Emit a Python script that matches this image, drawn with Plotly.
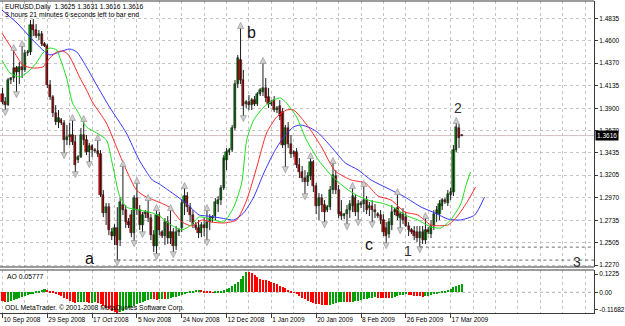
import plotly.graph_objects as go

# ---------------- data ----------------
TICK_BARS = [0, 16, 32, 48, 64, 80, 96, 112, 128, 144, 160]
TICK_LABELS = ["10 Sep 2008", "29 Sep 2008", "17 Oct 2008", "5 Nov 2008", "24 Nov 2008",
               "12 Dec 2008", "1 Jan 2009", "20 Jan 2009", "8 Feb 2009", "26 Feb 2009", "17 Mar 2009"]

OPEN = [
    1.4047, 1.3964, 1.3933, 1.4193, 1.4214, 1.4318, 1.4276, 1.4328, 1.4297, 1.4474,
    1.4484, 1.4765, 1.4713, 1.4651, 1.4671, 1.4567, 1.4547, 1.4141, 1.4016, 1.3850,
    1.3756, 1.3777, 1.3746, 1.3569, 1.3600, 1.3621, 1.3548, 1.3361, 1.3392, 1.3621,
    1.3569, 1.3444, 1.3506, 1.3465, 1.3455, 1.3423, 1.2997, 1.2810, 1.2872, 1.2612,
    1.2571, 1.2654, 1.2529, 1.2893, 1.2841, 1.2716, 1.2789, 1.2602, 1.2966, 1.2841,
    1.2685, 1.2799, 1.2820, 1.2758, 1.2581, 1.2467, 1.2789, 1.2612, 1.2571, 1.2716,
    1.2550, 1.2612, 1.2467, 1.2612, 1.2654, 1.2914, 1.2987, 1.2872, 1.2789, 1.2685,
    1.2654, 1.2602, 1.2685, 1.2654, 1.2716, 1.2758, 1.2779, 1.2904, 1.2945, 1.3070,
    1.3361, 1.3444, 1.3465, 1.3694, 1.4151, 1.4401, 1.4193, 1.3943, 1.3964, 1.3933,
    1.3985, 1.3943, 1.4047, 1.4068, 1.4110, 1.4016, 1.3943, 1.3985, 1.3881, 1.3923,
    1.3860, 1.3517, 1.3694, 1.3527, 1.3423, 1.3444, 1.3309, 1.3236, 1.3174, 1.3132,
    1.3195, 1.3340, 1.3091, 1.2883, 1.2966, 1.2893, 1.2841, 1.2872, 1.3049, 1.3195,
    1.3049, 1.2820, 1.2779, 1.2799, 1.2841, 1.2883, 1.2966, 1.2820, 1.2893, 1.2904,
    1.2945, 1.2862, 1.2883, 1.2841, 1.2799, 1.2789, 1.2737, 1.2654, 1.2591, 1.2685,
    1.2820, 1.2862, 1.2758, 1.2799, 1.2768, 1.2675, 1.2633, 1.2623, 1.2612, 1.2550,
    1.2612, 1.2529, 1.2633, 1.2591, 1.2675, 1.2799, 1.2799, 1.2883, 1.2945, 1.2914,
    1.2997, 1.3028, 1.3465, 1.3694, 1.3625]

HIGH = [
    1.4110, 1.4016, 1.4214, 1.4224, 1.4505, 1.4339, 1.4380, 1.4547, 1.4505, 1.4505,
    1.4817, 1.4827, 1.4775, 1.4713, 1.4703, 1.4588, 1.4567, 1.4193, 1.4037, 1.3933,
    1.3881, 1.3798, 1.3777, 1.3725, 1.3746, 1.3777, 1.3621, 1.3413, 1.3694, 1.3767,
    1.3621, 1.3538, 1.3527, 1.3486, 1.3569, 1.3465, 1.3049, 1.2914, 1.2914, 1.2654,
    1.2695, 1.2872, 1.2976, 1.3299, 1.2893, 1.2758, 1.2841, 1.2997, 1.3122, 1.2893,
    1.2820, 1.2841, 1.2945, 1.2799, 1.2633, 1.2841, 1.2820, 1.2633, 1.2758, 1.2779,
    1.2841, 1.2654, 1.2675, 1.2654, 1.2945, 1.3070, 1.3028, 1.2914, 1.2841, 1.2716,
    1.2737, 1.2716, 1.2758, 1.2841, 1.2799, 1.2789, 1.2966, 1.2987, 1.3101, 1.3413,
    1.3486, 1.3486, 1.3725, 1.4193, 1.4453, 1.4734, 1.4297, 1.3985, 1.4037, 1.4006,
    1.4027, 1.4068, 1.4110, 1.4370, 1.4214, 1.4110, 1.3985, 1.4027, 1.3923, 1.3985,
    1.3902, 1.3725, 1.3756, 1.3621, 1.3465, 1.3486, 1.3382, 1.3299, 1.3257, 1.3236,
    1.3382, 1.3361, 1.3122, 1.3018, 1.3007, 1.2945, 1.2893, 1.3091, 1.3330, 1.3257,
    1.3101, 1.2945, 1.2810, 1.2893, 1.2945, 1.3070, 1.3007, 1.2945, 1.2935, 1.3091,
    1.2987, 1.2924, 1.2945, 1.2904, 1.2820, 1.2841, 1.2799, 1.2716, 1.2758, 1.2893,
    1.2862, 1.3007, 1.2820, 1.2862, 1.2820, 1.2716, 1.2654, 1.2675, 1.2675, 1.2675,
    1.2675, 1.2758, 1.2665, 1.2737, 1.2841, 1.2883, 1.2945, 1.2966, 1.2966, 1.3049,
    1.3070, 1.3517, 1.3746, 1.3735, 1.3631]

LOW = [
    1.3943, 1.3881, 1.3923, 1.4151, 1.4172, 1.4068, 1.4151, 1.4214, 1.4276, 1.4443,
    1.4453, 1.4651, 1.4630, 1.4609, 1.4547, 1.4536, 1.4110, 1.3985, 1.3808, 1.3725,
    1.3694, 1.3725, 1.3434, 1.3517, 1.3517, 1.3517, 1.3236, 1.3330, 1.3382, 1.3517,
    1.3413, 1.3340, 1.3392, 1.3434, 1.3392, 1.2976, 1.2768, 1.2685, 1.2581, 1.2529,
    1.2477, 1.2321, 1.2467, 1.2789, 1.2654, 1.2654, 1.2560, 1.2519, 1.2789, 1.2633,
    1.2612, 1.2758, 1.2716, 1.2529, 1.2404, 1.2384, 1.2581, 1.2550, 1.2477, 1.2488,
    1.2488, 1.2404, 1.2425, 1.2571, 1.2612, 1.2789, 1.2820, 1.2716, 1.2654, 1.2633,
    1.2550, 1.2560, 1.2571, 1.2529, 1.2633, 1.2716, 1.2737, 1.2820, 1.2893, 1.3049,
    1.3257, 1.3413, 1.3444, 1.3673, 1.4110, 1.4151, 1.3819, 1.3902, 1.3881, 1.3881,
    1.3923, 1.3923, 1.4027, 1.4027, 1.3964, 1.3902, 1.3923, 1.3860, 1.3850, 1.3777,
    1.3486, 1.3288, 1.3486, 1.3382, 1.3392, 1.3278, 1.3174, 1.3132, 1.3007, 1.3091,
    1.3153, 1.3028, 1.2799, 1.2737, 1.2820, 1.2716, 1.2820, 1.2841, 1.3007, 1.3007,
    1.2758, 1.2737, 1.2747, 1.2695, 1.2758, 1.2820, 1.2779, 1.2737, 1.2862, 1.2820,
    1.2799, 1.2779, 1.2716, 1.2758, 1.2758, 1.2695, 1.2571, 1.2498, 1.2550, 1.2633,
    1.2789, 1.2737, 1.2654, 1.2695, 1.2665, 1.2571, 1.2591, 1.2529, 1.2508, 1.2456,
    1.2488, 1.2488, 1.2591, 1.2550, 1.2633, 1.2716, 1.2737, 1.2841, 1.2904, 1.2883,
    1.2945, 1.2987, 1.3444, 1.3486, 1.3616]

CLOSE = [
    1.3964, 1.3933, 1.4193, 1.4214, 1.4318, 1.4276, 1.4328, 1.4297, 1.4474, 1.4484,
    1.4765, 1.4713, 1.4651, 1.4671, 1.4567, 1.4547, 1.4141, 1.4016, 1.3850, 1.3756,
    1.3798, 1.3746, 1.3569, 1.3600, 1.3621, 1.3548, 1.3309, 1.3392, 1.3621, 1.3569,
    1.3444, 1.3506, 1.3465, 1.3455, 1.3423, 1.2997, 1.2810, 1.2872, 1.2633, 1.2571,
    1.2654, 1.2477, 1.2924, 1.2841, 1.2716, 1.2685, 1.2602, 1.2966, 1.2841, 1.2685,
    1.2789, 1.2820, 1.2758, 1.2581, 1.2467, 1.2789, 1.2633, 1.2571, 1.2716, 1.2550,
    1.2612, 1.2467, 1.2612, 1.2633, 1.2914, 1.2987, 1.2872, 1.2789, 1.2695, 1.2654,
    1.2602, 1.2685, 1.2654, 1.2716, 1.2758, 1.2768, 1.2924, 1.2945, 1.3070, 1.3382,
    1.3444, 1.3465, 1.3694, 1.4151, 1.4422, 1.4193, 1.3923, 1.3964, 1.3933, 1.3985,
    1.3943, 1.4047, 1.4089, 1.4110, 1.4006, 1.3943, 1.3954, 1.3881, 1.3902, 1.3819,
    1.3517, 1.3694, 1.3527, 1.3423, 1.3444, 1.3309, 1.3236, 1.3174, 1.3132, 1.3195,
    1.3340, 1.3091, 1.2883, 1.2966, 1.2893, 1.2820, 1.2872, 1.3049, 1.3205, 1.3049,
    1.2799, 1.2779, 1.2799, 1.2841, 1.2904, 1.2987, 1.2820, 1.2904, 1.2914, 1.2945,
    1.2841, 1.2883, 1.2841, 1.2820, 1.2779, 1.2737, 1.2612, 1.2571, 1.2716, 1.2820,
    1.2841, 1.2779, 1.2799, 1.2737, 1.2675, 1.2633, 1.2612, 1.2571, 1.2550, 1.2612,
    1.2529, 1.2633, 1.2612, 1.2675, 1.2799, 1.2841, 1.2904, 1.2945, 1.2924, 1.3007,
    1.3028, 1.3465, 1.3704, 1.3590, 1.3616]

AO = [
    -0.060, -0.068, -0.064, -0.058, -0.052, -0.046, -0.040, -0.034, -0.027, -0.020,
    -0.013, -0.006, 0.003, 0.010, 0.016, 0.019, 0.017, 0.011, 0.003, -0.006,
    -0.016, -0.026, -0.036, -0.046, -0.055, -0.063, -0.070, -0.068, -0.065, -0.063,
    -0.067, -0.071, -0.069, -0.067, -0.072, -0.080, -0.092, -0.103, -0.115, -0.124,
    -0.131, -0.137, -0.133, -0.124, -0.115, -0.107, -0.098, -0.090, -0.081, -0.073,
    -0.065, -0.058, -0.050, -0.044, -0.047, -0.051, -0.048, -0.044, -0.046, -0.042,
    -0.038, -0.034, -0.029, -0.024, -0.018, -0.011, -0.004, 0.003, 0.009, 0.014,
    0.016, 0.014, 0.011, 0.007, 0.004, 0.002, 0.003, 0.005, 0.008, 0.013,
    0.020, 0.030, 0.042, 0.056, 0.072, 0.090, 0.110, 0.136, 0.134, 0.126,
    0.117, 0.104, 0.090, 0.085, 0.080, 0.075, 0.069, 0.062, 0.054, 0.045,
    0.035, 0.026, 0.016, 0.007, -0.003, -0.013, -0.024, -0.035, -0.046, -0.055,
    -0.063, -0.070, -0.077, -0.081, -0.084, -0.086, -0.088, -0.084, -0.078, -0.072,
    -0.067, -0.063, -0.062, -0.064, -0.066, -0.063, -0.059, -0.055, -0.051, -0.047,
    -0.043, -0.040, -0.037, -0.034, -0.035, -0.036, -0.038, -0.039, -0.040, -0.036,
    -0.031, -0.026, -0.021, -0.017, -0.013, -0.015, -0.018, -0.022, -0.025, -0.028,
    -0.029, -0.026, -0.022, -0.017, -0.012, -0.007, -0.001, 0.005, 0.011, 0.018,
    0.025, 0.033, 0.042, 0.050, 0.05777]

UP_FRACTALS = [4, 7, 25, 29, 34, 43, 48, 52, 55, 60, 65, 73, 85, 93, 110, 118, 125, 129, 141, 151, 162]
DOWN_FRACTALS = [1, 5, 22, 26, 31, 41, 47, 50, 55, 61, 73, 86, 101, 108, 115, 123, 127, 132, 137, 142, 149]

# Alligator lines (bar position, price)
JAW_X = [-0.2, 5.2, 9.8, 14.4, 16.9, 20.4, 24.0, 26.5, 30.0, 33.6, 38.2, 44.2, 48.8, 53.5, 56.0,
         60.6, 65.5, 70.2, 73.0, 78.0, 82.6, 86.1, 89.7, 93.3, 96.8, 100.4, 103.9, 106.4, 110.0,
         112.8, 117.4, 122.4, 127.0, 131.6, 138.7, 143.7, 149.4, 154.4, 159.0, 163.6, 168.6, 172.1]
JAW_Y = [1.4921, 1.4786, 1.4641, 1.4505, 1.4454, 1.4485, 1.4516, 1.4485, 1.4329, 1.4142, 1.3913,
         1.3643, 1.3362, 1.3154, 1.3112, 1.3019, 1.2915, 1.2790, 1.2780, 1.2759, 1.2738, 1.2811,
         1.2977, 1.3226, 1.3435, 1.3601, 1.3705, 1.3726, 1.3694, 1.3643, 1.3497, 1.3331, 1.3258,
         1.3154, 1.3050, 1.2977, 1.2873, 1.2811, 1.2748, 1.2738, 1.2790, 1.2977]
TEETH_X = [-0.2, 3.7, 7.3, 10.8, 14.4, 16.9, 19.4, 21.5, 23.3, 25.0, 27.5, 30.0, 32.1, 37.1, 40.7,
           44.2, 47.8, 51.3, 54.9, 59.5, 64.1, 67.7, 71.2, 74.4, 79.0, 83.6, 87.2, 90.8, 94.3, 97.9,
           101.4, 103.9, 106.4, 110.0, 113.9, 118.8, 124.5, 129.5, 134.1, 138.7, 143.7, 148.3,
           153.0, 159.0, 162.5, 166.1, 168.9]
TEETH_Y = [1.4682, 1.4505, 1.4349, 1.4318, 1.4329, 1.4422, 1.4485, 1.4495, 1.4464, 1.4381, 1.4225,
           1.4090, 1.3965, 1.3746, 1.3497, 1.3258, 1.3050, 1.2977, 1.2935, 1.2873, 1.2717, 1.2676,
           1.2738, 1.2717, 1.2707, 1.2738, 1.2946, 1.3289, 1.3643, 1.3809, 1.3882, 1.3882, 1.3809,
           1.3674, 1.3497, 1.3247, 1.3154, 1.3123, 1.2987, 1.2946, 1.2821, 1.2790, 1.2686, 1.2686,
           1.2780, 1.2935, 1.3081]
LIPS_X = [-0.2, 2.7, 6.2, 9.8, 12.3, 14.4, 16.9, 19.4, 20.4, 22.9, 25.0, 26.5, 30.0, 33.6, 37.1,
          39.3, 41.7, 44.2, 48.8, 53.5, 56.0, 60.2, 64.1, 67.3, 70.2, 73.0, 75.5, 79.0, 82.6, 85.4,
          87.2, 89.7, 93.3, 96.8, 99.3, 101.4, 105.0, 108.5, 111.0, 112.8, 116.3, 119.9, 123.4,
          127.0, 131.6, 135.2, 140.1, 143.7, 148.3, 153.0, 156.5, 160.0, 163.6, 165.4, 167.1]
LIPS_Y = [1.4402, 1.4266, 1.4225, 1.4297, 1.4381, 1.4474, 1.4526, 1.4505, 1.4433, 1.4214, 1.3954,
          1.3882, 1.3705, 1.3643, 1.3570, 1.3310, 1.2998, 1.2873, 1.2842, 1.2811, 1.2780, 1.2686,
          1.2634, 1.2686, 1.2769, 1.2759, 1.2738, 1.2717, 1.2873, 1.3123, 1.3570, 1.3778, 1.3913,
          1.3986, 1.4006, 1.3954, 1.3809, 1.3570, 1.3445, 1.3362, 1.3237, 1.3133, 1.3050, 1.2987,
          1.2935, 1.2915, 1.2863, 1.2790, 1.2738, 1.2665, 1.2655, 1.2738, 1.2904, 1.3091, 1.3237]

LEVEL_BARS = [41, 149]          # dotted levels drawn from these bars' lows
PRICE_TICKS = [1.4835, 1.4600, 1.4370, 1.4135, 1.3900, 1.3670, 1.3435, 1.3205, 1.2970, 1.2735, 1.2505, 1.2270]
AO_TICKS = [0.1225, 0.0, -0.11682]
AO_TICK_TEXT = ["0.1225", "0.00", "-0.11682"]

# ---------------- figure ----------------
N = len(CLOSE)
IDX = list(range(N))
X_RANGE = [-0.888, 211.19]
Y_RANGE = [1.22493, 1.50149]
AO_RANGE = [-0.13855, 0.14926]
MAIN_DOM = [0.14744, 1.0]
AO_DOM = [0.0, 0.13782]
GRID = "#c4c4c4"
FRAME = "#3a3a3a"
FONT = "Liberation Sans"

fig = go.Figure()

# wicks
wx, wy = [], []
for i in IDX:
    wx += [i, i, None]
    wy += [LOW[i], HIGH[i], None]
fig.add_trace(go.Scatter(x=wx, y=wy, mode="lines", line=dict(color="#1c1c1c", width=1),
                         xaxis="x2", yaxis="y", hoverinfo="skip"))

# bodies
base = [min(o, c) for o, c in zip(OPEN, CLOSE)]
height = [max(abs(c - o), 0.0004) for o, c in zip(OPEN, CLOSE)]
body_col = ["#00a000" if c >= o else "#ee0000" for o, c in zip(OPEN, CLOSE)]
fig.add_trace(go.Bar(x=IDX, y=height, base=base, width=0.78, xaxis="x2", yaxis="y",
                     marker=dict(color=body_col, line=dict(color="#111111", width=0.5))))

# alligator
for xs, ys, col in [(JAW_X, JAW_Y, "#3535ff"), (TEETH_X, TEETH_Y, "#ff2a2a"), (LIPS_X, LIPS_Y, "#1ee01e")]:
    fig.add_trace(go.Scatter(x=xs, y=ys, mode="lines", xaxis="x2", yaxis="y",
                             line=dict(color=col, width=1, shape="spline", smoothing=0.6),
                             hoverinfo="skip"))

# fractals
off = 0.0058
fig.add_trace(go.Scatter(x=UP_FRACTALS, y=[HIGH[i] + off for i in UP_FRACTALS], mode="markers",
                         xaxis="x2", yaxis="y",
                         marker=dict(symbol="arrow-up", size=6, color="#cfcfcf",
                                     line=dict(color="#8a8a8a", width=0.6))))
fig.add_trace(go.Scatter(x=DOWN_FRACTALS, y=[LOW[i] - off for i in DOWN_FRACTALS], mode="markers",
                         xaxis="x2", yaxis="y",
                         marker=dict(symbol="arrow-down", size=6, color="#cfcfcf",
                                     line=dict(color="#8a8a8a", width=0.6))))

# AO histogram
ao_col = ["#ff0000"] + ["#00a000" if AO[i] > AO[i - 1] else "#ff0000" for i in range(1, N)]
fig.add_trace(go.Bar(x=IDX, y=AO, width=0.72, xaxis="x", yaxis="y2",
                     marker=dict(color=ao_col, line=dict(width=0))))

shapes = [
    dict(type="line", xref="paper", yref="paper", x0=0, x1=1, y0=1, y1=1, line=dict(color=FRAME, width=1)),
    dict(type="line", xref="paper", yref="paper", x0=0, x1=1, y0=MAIN_DOM[0], y1=MAIN_DOM[0], line=dict(color=FRAME, width=1)),
    dict(type="line", xref="paper", yref="paper", x0=0, x1=1, y0=AO_DOM[1], y1=AO_DOM[1], line=dict(color=FRAME, width=1)),
    dict(type="line", xref="paper", yref="y2", x0=0, x1=1, y0=0, y1=0, line=dict(color="#b0b0b0", width=1, dash="dot"), layer="below"),
    dict(type="line", xref="paper", yref="y", x0=0, x1=1, y0=CLOSE[-1], y1=CLOSE[-1], line=dict(color="#d6c2c2", width=1), layer="below"),
]
for b in LEVEL_BARS:
    shapes.append(dict(type="line", xref="x2", yref="y", x0=b, x1=X_RANGE[1], y0=LOW[b], y1=LOW[b],
                       line=dict(color="#6a6a6a", width=1, dash="dot")))

ann = [
    dict(text="EURUSD,Daily  1.3625 1.3631 1.3616 1.3616", xref="paper", yref="paper", x=0.005, y=0.9808,
         xanchor="left", yanchor="middle", showarrow=False, font=dict(size=6.8, family=FONT, color="#000")),
    dict(text="3 hours 21 minutes 6 seconds left to bar end", xref="paper", yref="paper", x=0.005, y=0.9567,
         xanchor="left", yanchor="middle", showarrow=False, font=dict(size=6.8, family=FONT, color="#000")),
    dict(text="AO 0.05777", xref="paper", yref="paper", x=0.008, y=0.1154,
         xanchor="left", yanchor="middle", showarrow=False, font=dict(size=6.8, family=FONT, color="#000")),
    dict(text="ODL MetaTrader. © 2001-2008 MetaQuotes Software Corp.", xref="paper", yref="paper", x=0.005, y=0.016,
         xanchor="left", yanchor="middle", showarrow=False, font=dict(size=6.8, family=FONT, color="#000")),
    dict(text="1.3616", xref="paper", yref="y", x=1, xshift=1, y=CLOSE[-1], xanchor="left", yanchor="middle",
         showarrow=False, bgcolor="#000000", borderpad=1, font=dict(size=6.5, family=FONT, color="#ffffff")),
]
for t, x, y, sz, col in [("a", 31.1, 1.2342, 16, "#111"), ("b", 89.0, 1.4692, 16, "#111"),
                         ("c", 130.9, 1.2488, 16, "#111"), ("1", 144.8, 1.2415, 14, "#333"),
                         ("2", 162.5, 1.3902, 14, "#333"), ("3", 205.2, 1.2300, 14, "#333")]:
    ann.append(dict(text=t, xref="x2", yref="y", x=x, y=y, showarrow=False, xanchor="center",
                    yanchor="middle", font=dict(size=sz, family=FONT, color=col)))

grid_vals = list(range(0, 212, 8))
fig.update_layout(
    width=625, height=326, margin=dict(l=0, r=28, t=1, b=13),
    plot_bgcolor="white", paper_bgcolor="white", showlegend=False,
    barmode="overlay", bargap=0,
    font=dict(family=FONT, size=6.5, color="#000"),
    shapes=shapes, annotations=ann,
    xaxis=dict(domain=[0, 1], anchor="y2", range=X_RANGE, tickmode="array", tickvals=TICK_BARS,
               ticktext=TICK_LABELS, ticklabelposition="outside right", tickangle=0, ticks="outside", ticklen=4,
               tickcolor=FRAME, showline=True, linecolor=FRAME, linewidth=1, zeroline=False,
               showgrid=True, gridcolor=GRID, griddash="dot", gridwidth=1,
               minor=dict(tickmode="array", tickvals=grid_vals, showgrid=True, gridcolor=GRID, griddash="dot"),
               tickfont=dict(size=6.5, family=FONT, color="#000")),
    xaxis2=dict(domain=[0, 1], anchor="y", matches="x", range=X_RANGE, tickmode="array", tickvals=TICK_BARS,
                showticklabels=False, ticks="", zeroline=False,
                showgrid=True, gridcolor=GRID, griddash="dot",
                minor=dict(tickmode="array", tickvals=grid_vals, showgrid=True, gridcolor=GRID, griddash="dot")),
    yaxis=dict(domain=MAIN_DOM, anchor="x2", side="right", range=Y_RANGE, tickmode="array",
               tickvals=PRICE_TICKS, ticktext=[f"{v:.4f}" for v in PRICE_TICKS], ticks="outside",
               ticklen=3, tickcolor=FRAME, showline=True, linecolor=FRAME, linewidth=1, zeroline=False,
               showgrid=True, gridcolor=GRID, griddash="dot", tickfont=dict(size=6.5, family=FONT, color="#000")),
    yaxis2=dict(domain=AO_DOM, anchor="x", side="right", range=AO_RANGE, tickmode="array",
                tickvals=AO_TICKS, ticktext=AO_TICK_TEXT, ticks="outside", ticklen=3, tickcolor=FRAME,
                showline=True, linecolor=FRAME, linewidth=1, zeroline=False, showgrid=False,
                tickfont=dict(size=6.5, family=FONT, color="#000")),
)

fig.write_html("out.html")
